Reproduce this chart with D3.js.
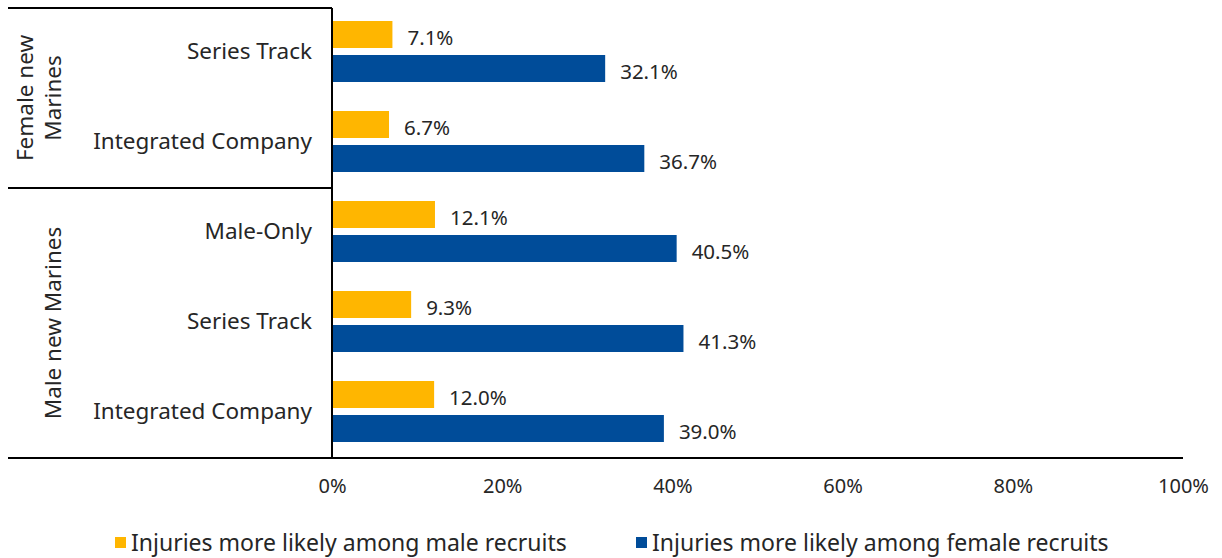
<!DOCTYPE html>
<html>
<head>
<meta charset="utf-8">
<script src="https://cdn.jsdelivr.net/npm/d3@7"></script>
<style>
  body { margin: 0; background: #fff; }
  text { font-family: "Noto Sans", sans-serif; fill: #262626; }
</style>
</head>
<body>
<svg id="chart" width="1222" height="558"></svg>
<script>
// data
const categories = ["Series Track", "Integrated Company", "Male-Only", "Series Track", "Integrated Company"]
const groups = [
    {name: ["Female new", "Marines"], size: 2},
    {name: ["Male new Marines"], size: 3}
]
const maleLikely = [7.1, 6.7, 12.1, 9.3, 12.0]
const femaleLikely = [32.1, 36.7, 40.5, 41.3, 39.0]
const xTicks = [0, 20, 40, 60, 80, 100]
const seriesNames = ["Injuries more likely among male recruits", "Injuries more likely among female recruits"]
const colors = ["#FFB600", "#004C99"]

const svg = d3.select("#chart")
const margin = {top: 8, right: 39, bottom: 100, left: 332}
const width = 1222 - margin.left - margin.right
const height = 558 - margin.top - margin.bottom
const g = svg.append("g").attr("transform", "translate(" + margin.left + "," + margin.top + ")")

const x = d3.scaleLinear().domain([0, 100]).range([0, width])
const y = d3.scaleBand().domain(d3.range(categories.length)).range([0, height])
const barH = 27

// bars
const rows = g.selectAll(".row")
    .data(categories.map((c, i) => ({i: i, vals: [maleLikely[i], femaleLikely[i]]})))
    .enter().append("g")
    .attr("class", "row")
    .attr("transform", d => "translate(0," + y(d.i) + ")")

rows.selectAll("rect")
    .data(d => d.vals)
    .enter().append("rect")
    .attr("x", 0)
    .attr("y", (d, j) => 13 + j * 34)
    .attr("width", d => x(d))
    .attr("height", barH)
    .attr("fill", (d, j) => colors[j])

rows.selectAll(".val")
    .data(d => d.vals)
    .enter().append("text")
    .attr("class", "val")
    .attr("x", d => x(d) + 15)
    .attr("y", (d, j) => 13 + j * 34 + barH / 2 + 3)
    .attr("dy", "0.35em")
    .style("font-size", "20.5px")
    .text(d => d.toFixed(1) + "%")

// category labels
g.selectAll(".cat")
    .data(categories)
    .enter().append("text")
    .attr("class", "cat")
    .attr("x", -20)
    .attr("y", (d, i) => y(i) + y.bandwidth() / 2 - 2)
    .attr("dy", "0.35em")
    .attr("text-anchor", "end")
    .style("font-size", "22.5px")
    .text(d => d)

// frame lines
const line = (x1, y1, x2, y2) => svg.append("line")
    .attr("x1", x1).attr("y1", y1).attr("x2", x2).attr("y2", y2)
    .attr("stroke", "#000").attr("stroke-width", 2)

line(8, margin.top, margin.left, margin.top)
line(margin.left, margin.top, margin.left, margin.top + height)
line(8, margin.top + height, margin.left + width, margin.top + height)

let start = 0
groups.forEach((grp, k) => {
    const y0 = y(start), y1 = y(start + grp.size - 1) + y.bandwidth()
    if (k > 0) line(8, margin.top + y0, margin.left, margin.top + y0)
    const cy = margin.top + (y0 + y1) / 2
    const t = svg.append("text")
        .attr("transform", "translate(" + (53 - (grp.name.length - 1) * 28) + "," + cy + ") rotate(-90)")
        .attr("text-anchor", "middle")
        .style("font-size", "22.5px")
    grp.name.forEach((s, j) => {
        t.append("tspan").attr("x", 0).attr("dy", j === 0 ? "0.35em" : "1.25em").text(s)
    })
    start += grp.size
})

// x axis
const xAxis = g.append("g")
    .attr("transform", "translate(0," + height + ")")
    .call(d3.axisBottom(x).tickValues(xTicks).tickSize(0).tickPadding(21).tickFormat(d => d + "%"))
xAxis.select(".domain").remove()
xAxis.selectAll("text").style("font-size", "20px").attr("fill", "#262626")

// legend
const legendX = [115, 636]
const legend = svg.selectAll(".legend")
    .data(seriesNames)
    .enter().append("g")
    .attr("class", "legend")
    .attr("transform", (d, i) => "translate(" + legendX[i] + ",537)")
legend.append("rect").attr("width", 11).attr("height", 11).attr("fill", (d, i) => colors[i])
legend.append("text").attr("x", 16).attr("y", 6).attr("dy", "0.35em")
    .style("font-size", "23px").text(d => d)
</script>
</body>
</html>
